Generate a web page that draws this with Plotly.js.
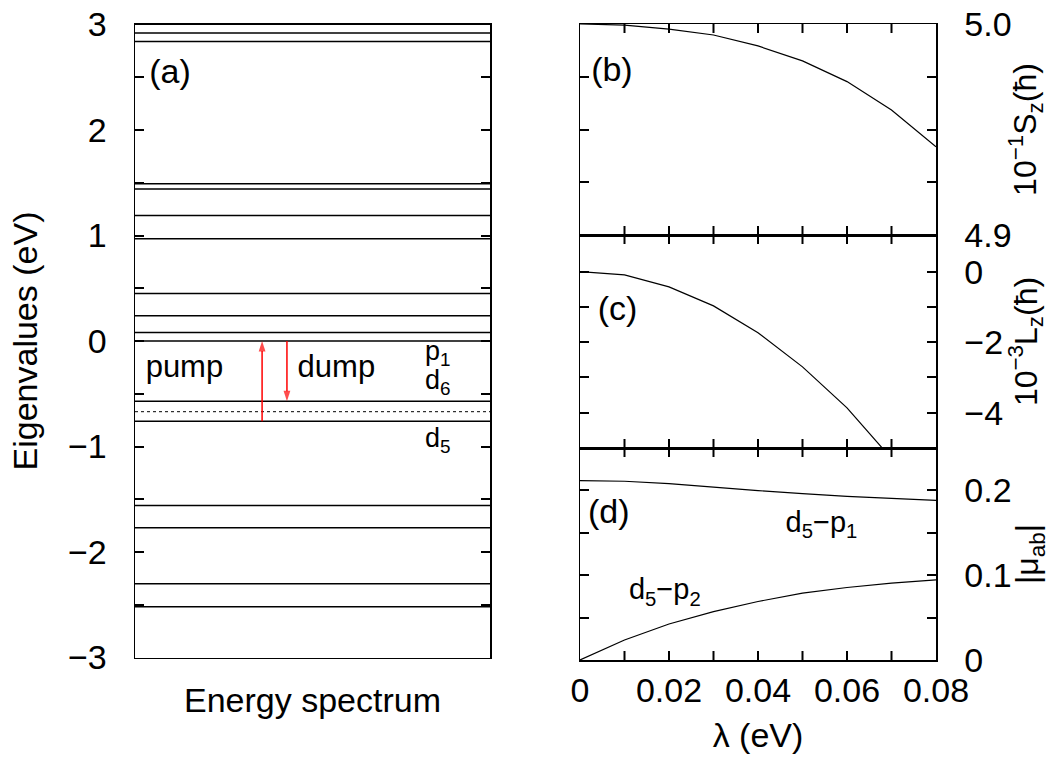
<!DOCTYPE html>
<html>
<head>
<meta charset="utf-8">
<script src="https://cdn.plot.ly/plotly-3.0.1.min.js"></script>
<style>html,body{margin:0;padding:0;background:#fff;}</style>
</head>
<body>
<div id="chart" style="width:1050px;height:760px;"></div>
<script>
// ---- data ----
const levels = [2.92, 2.84, 1.49, 1.44, 1.19, 0.97, 0.45, 0.24, 0.08, 0.00,
                -0.57, -0.76, -1.56, -1.77, -2.30, -2.52];
const fermiLevel = -0.67;
const pumpFrom = -0.76, pumpTo = 0.00;
const dumpFrom = 0.00, dumpTo = -0.57;

const lambda = [0, 0.01, 0.02, 0.03, 0.04, 0.05, 0.06, 0.07, 0.08];
const Sz = [5.000, 4.9995, 4.9976, 4.9948, 4.9896, 4.9825, 4.9727, 4.9592, 4.9418];
const Lz = [0, -0.09, -0.43, -0.97, -1.73, -2.70, -3.86, -5.30, -6.90];
const muD5P1 = [0.2116, 0.2108, 0.2080, 0.2037, 0.1998, 0.1962, 0.1930, 0.1907, 0.1883];
const muD5P2 = [0, 0.0236, 0.0425, 0.0571, 0.0690, 0.0788, 0.0855, 0.0906, 0.0946];

// axis ranges and tick values
const rangeSz = [4.9, 5.0], rangeLz = [-5, 1.04], rangeMu = [0, 0.25];
const lambdaTicks = [0.01, 0.02, 0.03, 0.04, 0.05, 0.06, 0.07];

// labels (text, position in the panel's own data units)
const labelsA = ['(a)', 'pump', 'dump', 'p<sub>1</sub>', 'd<sub>6</sub>', 'd<sub>5</sub>', 'E<sub>f</sub>'];
const labelsAx = [0.04, 0.03, 0.458, 0.817, 0.817, 0.817, 1.035];
const labelsAy = [2.53, -0.27, -0.27, -0.12, -0.39, -0.94, -0.72];
const labelsASize = [34, 31, 31, 27, 27, 27, 34];

// ---- build traces ----
const FONT = 'Liberation Sans, Arial, Helvetica, sans-serif';
const lvX = [], lvY = [];
levels.forEach(e => { lvX.push(0, 1, null); lvY.push(e, e, null); });

function arrow(x, from, to) {
  return {x: [x, x], y: [from, to], xaxis: 'x', yaxis: 'y', mode: 'lines+markers',
    line: {color: 'red', width: 1.5},
    marker: {symbol: 'arrow', angleref: 'previous', size: [0, 11], color: 'red', line: {width: 0}}};
}
function textTrace(xa, ya, xs, ys, txt, sizes, clip) {
  return {x: xs, y: ys, text: txt, xaxis: xa, yaxis: ya, mode: 'text', textposition: 'middle right',
    textfont: {family: FONT, size: sizes, color: 'black'}, cliponaxis: clip};
}

const traces = [
  {x: lvX, y: lvY, xaxis: 'x', yaxis: 'y', mode: 'lines', line: {color: 'black', width: 1.5}},
  {x: [0, 1], y: [fermiLevel, fermiLevel], xaxis: 'x', yaxis: 'y', mode: 'lines', line: {color: 'black', width: 1, dash: 'dot'}},
  arrow(0.358, pumpFrom, pumpTo),
  arrow(0.428, dumpFrom, dumpTo),
  textTrace('x', 'y', labelsAx, labelsAy, labelsA, labelsASize, false),
  {x: lambda, y: Sz, xaxis: 'x2', yaxis: 'y2', mode: 'lines', line: {color: 'black', width: 1.2}},
  {x: lambda, y: Lz, xaxis: 'x3', yaxis: 'y3', mode: 'lines', line: {color: 'black', width: 1.2}},
  {x: lambda, y: muD5P1, xaxis: 'x4', yaxis: 'y4', mode: 'lines', line: {color: 'black', width: 1.2}},
  {x: lambda, y: muD5P2, xaxis: 'x4', yaxis: 'y4', mode: 'lines', line: {color: 'black', width: 1.2}},
  textTrace('x2', 'y2', [0.0025], [4.977], ['(b)'], [34], false),
  textTrace('x3', 'y3', [0.0040], [-1.13], ['(c)'], [34], false),
  textTrace('x4', 'y4', [0.0018, 0.0462, 0.0110], [0.171, 0.160, 0.080],
    ['(d)', 'd<sub>5</sub>−p<sub>1</sub>', 'd<sub>5</sub>−p<sub>2</sub>'], [34, 29, 29], false)
];

const LW = 1.5, TL = 9, TW = 2;
function frameAxis(extra) {
  return Object.assign({
    showline: true, mirror: 'ticks', linecolor: 'black', linewidth: LW,
    showgrid: false, zeroline: false, ticks: 'inside', ticklen: TL, tickwidth: TW, tickcolor: 'black',
    tickfont: {size: 34, family: FONT, color: 'black'}
  }, extra);
}
const minorT = d => ({dtick: d, ticks: 'inside', ticklen: TL, tickwidth: TW, tickcolor: 'black'});
const xr = [580 / 1050, 936 / 1050];
const lamX = () => ({range: [0, 0.08], dtick: 0.02, ticks: '', mirror: true});

// inside tick marks of the lambda axes (top and bottom of each right panel), placed through the axes' scales
const shapes = [];
[['x2', 'y2', rangeSz], ['x3', 'y3', rangeLz], ['x4', 'y4', rangeMu]].forEach(([xa, ya, rg]) => {
  lambdaTicks.forEach(v => {
    shapes.push({type: 'line', xref: xa, yref: ya, x0: v, x1: v, ysizemode: 'pixel', yanchor: rg[0], y0: 0, y1: TL,
      line: {color: 'black', width: TW}});
    shapes.push({type: 'line', xref: xa, yref: ya, x0: v, x1: v, ysizemode: 'pixel', yanchor: rg[1], y0: 0, y1: -TL,
      line: {color: 'black', width: TW}});
  });
});

const layout = {
  width: 1050, height: 760,
  margin: {l: 0, r: 0, t: 0, b: 0},
  paper_bgcolor: 'white', plot_bgcolor: 'white',
  showlegend: false,
  font: {family: FONT, size: 34, color: 'black'},
  shapes: shapes,
  xaxis: frameAxis({domain: [135 / 1050, 490 / 1050], range: [0, 1], ticks: '', showticklabels: false, mirror: true,
    title: {text: 'Energy spectrum', font: {size: 34}, standoff: 30}}),
  yaxis: frameAxis({domain: [(760 - 657.5) / 760, (760 - 24.5) / 760], range: [-3, 3], dtick: 1,
    minor: minorT(0.5), ticklabelstandoff: 20,
    title: {text: 'Eigenvalues (eV)', font: {size: 34}, standoff: 20}}),
  xaxis2: frameAxis(Object.assign({domain: xr, anchor: 'y2', showticklabels: false}, lamX())),
  yaxis2: frameAxis({domain: [(760 - 235) / 760, (760 - 24) / 760], anchor: 'x2', side: 'right', range: rangeSz,
    dtick: 0.1, tickformat: '.1f', ticklabelstandoff: 20, minor: minorT(0.025),
    title: {text: '10<sup>−1</sup>S<sub>z</sub>(ħ)', font: {size: 32}, standoff: 3}}),
  xaxis3: frameAxis(Object.assign({domain: xr, anchor: 'y3', showticklabels: false}, lamX())),
  yaxis3: frameAxis({domain: [(760 - 448) / 760, (760 - 235) / 760], anchor: 'x3', side: 'right', range: rangeLz,
    dtick: 2, ticklabelstandoff: 20, minor: minorT(1),
    title: {text: '10<sup>−3</sup>L<sub>z</sub>(ħ)', font: {size: 32}, standoff: 3}}),
  xaxis4: frameAxis(Object.assign({domain: xr, anchor: 'y4', ticklabelstandoff: 0,
    title: {text: 'λ (eV)', font: {size: 34}, standoff: 15}}, lamX())),
  yaxis4: frameAxis({domain: [(760 - 660) / 760, (760 - 448) / 760], anchor: 'x4', side: 'right', range: rangeMu,
    dtick: 0.1, ticklabelstandoff: 20, minor: minorT(0.05),
    title: {text: '|μ<sub>ab</sub>|', font: {size: 32}, standoff: 3}})
};

Plotly.newPlot('chart', traces, layout, {staticPlot: true, displayModeBar: false});
</script>
</body>
</html>
